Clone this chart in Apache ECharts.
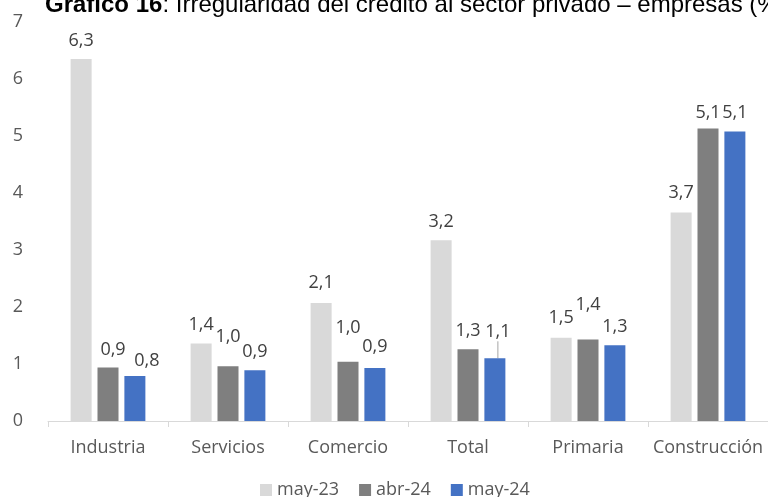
<!DOCTYPE html>
<html>
<head>
<meta charset="utf-8">
<script src="https://cdn.jsdelivr.net/npm/echarts@6/dist/echarts.min.js"></script>
<style>
  html, body { margin: 0; padding: 0; background: #fff; }
  #chart { width: 768px; height: 497px; }
</style>
</head>
<body>
<div id="chart"></div>
<script>
const categories = ['Industria', 'Servicios', 'Comercio', 'Total', 'Primaria', 'Construcción']
const seriesNames = ['may-23', 'abr-24', 'may-24']
const may23 = [6.35, 1.36, 2.07, 3.17, 1.46, 3.66]
const abr24 = [0.94, 0.96, 1.04, 1.26, 1.43, 5.13]
const may24 = [0.79, 0.89, 0.93, 1.1, 1.33, 5.08]
const yTicks = [0, 1, 2, 3, 4, 5, 6, 7]

// small nudges for labels that were moved by hand in the original [dx, dy]
const labelNudge = [
  [[0, 0], [0, -1], [0, -2], [0, 0], [0, -2], [0, -2]],
  [[5, 0], [0, -11], [0, -16], [0, 0], [0, -17], [0, 2]],
  [[12, 3], [0, 0], [0, -3], [3, -8], [0, 0], [0, -1]],
]
const leaderLines = [[], [], [3]]

const colors = ['#d9d9d9', '#7f7f7f', '#4472c4']
const font = '"Open Sans", "Noto Sans", sans-serif'
const titleFont = '"Liberation Sans", Arial, sans-serif'

function fmt(v) {
  return Number(v).toFixed(1).replace('.', ',')
}

function buildSeries(values, idx) {
  return {
    name: seriesNames[idx],
    type: 'bar',
    barWidth: 21,
    barGap: '28%',
    itemStyle: { color: colors[idx] },
    label: {
      show: true,
      position: 'top',
      distance: 9,
      color: '#404040',
      fontFamily: font,
      fontSize: 18,
      formatter: (p) => fmt(p.value),
    },
    labelLine: { lineStyle: { color: '#a6a6a6', width: 1 } },
    labelLayout: (p) => {
      const n = labelNudge[idx][p.dataIndex] || [0, 0]
      return { dx: n[0], dy: n[1] }
    },
    data: values.map((v, i) => leaderLines[idx].includes(i)
      ? { value: v, labelLine: { show: true } }
      : v),
  }
}

const chart = echarts.init(document.getElementById('chart'), null, { renderer: 'canvas' })
chart.setOption({
  animation: false,
  title: {
    text: '{b|Gráfico 16}{r|: Irregularidad del crédito al sector privado – empresas (%)}',
    left: 40,
    top: -12,
    textStyle: {
      fontWeight: 'normal',
      rich: {
        b: { fontFamily: titleFont, fontSize: 24, fontWeight: 'bold', color: '#000' },
        r: { fontFamily: titleFont, fontSize: 24, fontWeight: 'normal', color: '#000' },
      },
    },
  },
  legend: {
    data: seriesNames,
    left: 255,
    top: 476,
    itemWidth: 12,
    itemHeight: 12,
    itemGap: 20,
    icon: 'rect',
    textStyle: { color: '#595959', fontFamily: font, fontSize: 18 },
  },
  grid: { left: 48, top: 22, width: 720, height: 399, containLabel: false },
  xAxis: {
    type: 'category',
    data: categories,
    axisLine: { lineStyle: { color: '#d9d9d9', width: 1 } },
    axisTick: { show: true, length: 6, lineStyle: { color: '#d9d9d9' } },
    axisLabel: { color: '#595959', fontFamily: font, fontSize: 18, margin: 18, interval: 0 },
  },
  yAxis: {
    type: 'value',
    min: yTicks[0],
    max: yTicks[yTicks.length - 1],
    interval: 1,
    axisLine: { show: false },
    axisTick: { show: false },
    splitLine: { show: false },
    axisLabel: { color: '#595959', fontFamily: font, fontSize: 18, margin: 25 },
  },
  series: [buildSeries(may23, 0), buildSeries(abr24, 1), buildSeries(may24, 2)],
})
</script>
</body>
</html>
